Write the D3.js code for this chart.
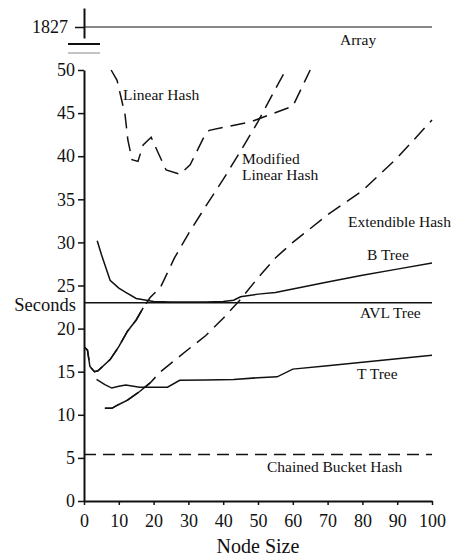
<!DOCTYPE html>
<html>
<head>
<meta charset="utf-8">
<script src="https://cdn.jsdelivr.net/npm/d3@7"></script>
<style>
  html, body { margin: 0; padding: 0; background: #fff; }
  svg { display: block; }
  text { font-family: "Liberation Serif", "Times New Roman", serif; fill: #111; }
</style>
</head>
<body>
<svg id="chart" width="461" height="556"></svg>
<script>
// ---------- data ----------
const xTicks = [0, 10, 20, 30, 40, 50, 60, 70, 80, 90, 100];
const yTicks = [0, 5, 10, 15, 20, 25, 30, 35, 40, 45, 50];
const arrayValue = 1827;
const arrayX = [0, 100];

const linearHashX = [7.8, 9.5, 11.8, 12.6, 13.8, 15.5, 17, 19.3, 21.3, 23.6, 27.6, 30.5, 34.8, 36, 48, 60, 65];
const linearHashY = [50, 48.8, 44.8, 41.9, 39.6, 39.4, 41.3, 42.2, 40.4, 38.4, 37.9, 39, 42.5, 43, 44, 45.8, 50];

const modLinearX = [0, 1, 1.7, 3, 4, 7.5, 10, 12.5, 15, 17, 19, 22, 26, 30, 35, 40, 45, 50, 55, 58];
const modLinearY = [17.9, 17.5, 15.6, 15, 15.1, 16.4, 17.9, 19.7, 21, 22.4, 23.6, 24.8, 28.2, 31, 34.2, 37.3, 40.6, 44, 47.8, 50];

const extHashX = [6, 8, 10, 12.5, 16, 19, 22, 30, 35, 40, 45, 50, 55, 60, 70, 80, 90, 100];
const extHashY = [10.75, 10.75, 11.2, 11.7, 12.7, 13.7, 15, 17.6, 19.2, 21.2, 23.4, 25.9, 28.2, 30, 33.2, 36, 39.8, 44.2];

const bTreeX = [3.8, 5, 7.5, 10, 12, 15, 20, 25, 35, 40, 43, 45, 50, 55, 60, 70, 80, 90, 100];
const bTreeY = [30.2, 28.6, 25.6, 24.7, 24.2, 23.5, 23.15, 23.1, 23.1, 23.15, 23.3, 23.7, 24, 24.2, 24.6, 25.4, 26.2, 26.9, 27.6];

const avlX = [0, 100];
const avlY = [23, 23];

const tTreeX = [3.6, 6, 8, 10, 12, 16, 20, 24, 27.5, 35, 43, 50, 55.5, 60, 70, 80, 90, 100];
const tTreeY = [14.1, 13.5, 13.1, 13.3, 13.45, 13.2, 13.2, 13.2, 14, 14.05, 14.1, 14.3, 14.4, 15.3, 15.7, 16.1, 16.5, 16.9];

const chainedX = [0, 100];
const chainedY = [5.4, 5.4];

// ---------- layout ----------
const svg = d3.select("#chart");
const x = d3.scaleLinear().domain([0, 100]).range([84, 432]);
const y = d3.scaleLinear().domain([0, 50]).range([501, 70]);
const yTop = d3.scaleLinear().domain([1816, 1846]).range([38, 8]);

const zip = (xs, ys) => xs.map((v, i) => ({ x: v, y: ys[i] }));
const line = d3.line().x(d => x(d.x)).y(d => y(d.y));

svg.append("defs").append("clipPath").attr("id", "plot")
  .append("rect").attr("x", 84).attr("y", 69).attr("width", 360).attr("height", 440);

const plot = svg.append("g").attr("clip-path", "url(#plot)");

function drawSeries(data, dash, solidUntil) {
  plot.append("path").datum(data)
    .attr("d", line).attr("fill", "none").attr("stroke", "#111")
    .attr("stroke-width", 1.5)
    .attr("stroke-dasharray", dash || null);
  if (solidUntil !== undefined) {
    plot.append("path").datum(data)
      .attr("d", d3.line().defined(d => d.x <= solidUntil).x(d => x(d.x)).y(d => y(d.y)))
      .attr("fill", "none").attr("stroke", "#111").attr("stroke-width", 1.5);
  }
}

drawSeries(zip(avlX, avlY));
drawSeries(zip(chainedX, chainedY), "12,7");
drawSeries(zip(linearHashX, linearHashY), "15,8");
drawSeries(zip(modLinearX, modLinearY), "15,8", 17);
drawSeries(zip(extHashX, extHashY), "15,8", 19);
drawSeries(zip(bTreeX, bTreeY));
drawSeries(zip(tTreeX, tTreeY));

// ---------- axes ----------
const yAxis = svg.append("g").attr("transform", "translate(84,0)")
  .call(d3.axisLeft(y).tickValues(yTicks).tickSize(6).tickSizeOuter(0).tickPadding(3));
const xAxis = svg.append("g").attr("transform", "translate(0,501)")
  .call(d3.axisBottom(x).tickValues(xTicks).tickSize(4).tickSizeOuter(0).tickPadding(9));
const topAxis = svg.append("g").attr("transform", "translate(84,0)")
  .call(d3.axisLeft(yTop).tickValues([arrayValue]).tickFormat(d3.format("d"))
    .tickSize(9).tickSizeOuter(0).tickPadding(7));

[yAxis, xAxis, topAxis].forEach(g => {
  g.select(".domain").attr("stroke", "#111").attr("stroke-width", 2);
  g.selectAll(".tick line").attr("stroke", "#111").attr("stroke-width", 1.5);
  g.selectAll(".tick text").attr("font-size", 18)
    .attr("font-family", "Liberation Serif").attr("fill", "#111");
});

// Array line at top (broken axis)
svg.append("path").datum(zip(arrayX, [arrayValue, arrayValue]))
  .attr("d", d3.line().x(d => x(d.x)).y(d => yTop(d.y)))
  .attr("fill", "none").attr("stroke", "#111").attr("stroke-width", 1.2);

// axis break marks
svg.append("line").attr("x1", 68).attr("x2", 100).attr("y1", 44).attr("y2", 44)
  .attr("stroke", "#111").attr("stroke-width", 2);
svg.append("line").attr("x1", 68).attr("x2", 100).attr("y1", 53).attr("y2", 53)
  .attr("stroke", "#888").attr("stroke-width", 1);

// axis titles
svg.append("text").attr("x", 76).attr("y", 311).attr("text-anchor", "end")
  .attr("font-size", 18.5).text("Seconds");
svg.append("text").attr("x", 258).attr("y", 553).attr("text-anchor", "middle")
  .attr("font-size", 20).text("Node Size");

// series labels
const labels = [
  { t: "Array", x: 340, y: 45 },
  { t: "Linear Hash", x: 123, y: 100 },
  { t: "Modified", x: 242, y: 164 },
  { t: "Linear Hash", x: 242, y: 180 },
  { t: "Extendible Hash", x: 348, y: 227 },
  { t: "B Tree", x: 367, y: 260 },
  { t: "AVL Tree", x: 360, y: 318 },
  { t: "T Tree", x: 357, y: 379 },
  { t: "Chained Bucket Hash", x: 267, y: 472 }
];
svg.selectAll("text.lbl").data(labels).enter().append("text")
  .attr("class", "lbl").attr("x", d => d.x).attr("y", d => d.y)
  .attr("font-size", 15.5).text(d => d.t);
</script>
</body>
</html>
